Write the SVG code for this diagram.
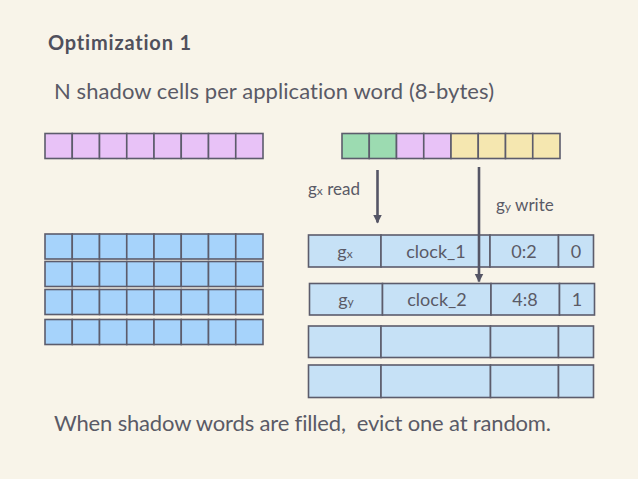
<svg xmlns="http://www.w3.org/2000/svg" width="638" height="479" viewBox="0 0 638 479">
<style>
.t{font-family:Lato,"Noto Sans","DejaVu Sans",sans-serif;fill:#5a5a66;font-weight:400;font-variant-ligatures:none}
.c{stroke:#5c5c6c;stroke-width:1.6}
.p{fill:#E8C2F7}.b{fill:#A6D3FB}.g{fill:#9CDBB1}.y{fill:#F5E7B0}.tb{fill:#C6E1F6}
.ar{stroke:#555565;stroke-width:2.6;fill:none}
</style>
<defs>
<marker id="ah" markerWidth="9" markerHeight="10" refX="8" refY="4.5" orient="auto" markerUnits="userSpaceOnUse">
<path d="M0,0 L9,4.5 L0,9 Z" fill="#555565"/>
</marker>
<g id="row8">
<rect x="0" y="0" width="27.25" height="25" class="c"/>
<rect x="27.25" y="0" width="27.25" height="25" class="c"/>
<rect x="54.5" y="0" width="27.25" height="25" class="c"/>
<rect x="81.75" y="0" width="27.25" height="25" class="c"/>
<rect x="109" y="0" width="27.25" height="25" class="c"/>
<rect x="136.25" y="0" width="27.25" height="25" class="c"/>
<rect x="163.5" y="0" width="27.25" height="25" class="c"/>
<rect x="190.75" y="0" width="27.25" height="25" class="c"/>
</g>
</defs>
<rect width="638" height="479" fill="#F8F4E9"/>
<text class="t" x="48" y="50" font-size="20" style="font-weight:bold;fill:#50505c" textLength="143">Optimization 1</text>
<text class="t" x="54" y="99" font-size="22" textLength="440">N shadow cells per application word (8-bytes)</text>

<g id="app-word">
<use href="#row8" x="45" y="133.5" class="p"/>
</g>
<g id="shadow-cells">
<use href="#row8" x="45" y="234" class="b"/>
<use href="#row8" x="45" y="261.5" class="b"/>
<use href="#row8" x="45" y="289.5" class="b"/>
<use href="#row8" x="45" y="319.5" class="b"/>
</g>
<g id="access-word">
<rect x="342" y="133.5" width="27.25" height="25" class="c g"/>
<rect x="369.25" y="133.5" width="27.25" height="25" class="c g"/>
<rect x="396.5" y="133.5" width="27.25" height="25" class="c p"/>
<rect x="423.75" y="133.5" width="27.25" height="25" class="c p"/>
<rect x="451" y="133.5" width="27.25" height="25" class="c y"/>
<rect x="478.25" y="133.5" width="27.25" height="25" class="c y"/>
<rect x="505.5" y="133.5" width="27.25" height="25" class="c y"/>
<rect x="532.75" y="133.5" width="27.25" height="25" class="c y"/>
</g>
<g id="table-row-1">
<rect x="308.5" y="235" width="72.5" height="32" class="c tb"/>
<rect x="381" y="235" width="109" height="32" class="c tb"/>
<rect x="490" y="235" width="68.5" height="32" class="c tb"/>
<rect x="558.5" y="235" width="35" height="32" class="c tb"/>
<text class="t" x="345" y="257.5" font-size="18" text-anchor="middle">g<tspan font-size="12">x</tspan></text>
<text class="t" x="436" y="257.5" font-size="18" text-anchor="middle">clock_1</text>
<text class="t" x="524" y="257.5" font-size="18" text-anchor="middle">0:2</text>
<text class="t" x="576" y="257.5" font-size="18" text-anchor="middle">0</text>
</g>
<g id="table-row-2">
<rect x="309.5" y="283.5" width="73" height="31.5" class="c tb"/>
<rect x="382.5" y="283.5" width="108.5" height="31.5" class="c tb"/>
<rect x="491" y="283.5" width="68.5" height="31.5" class="c tb"/>
<rect x="559.5" y="283.5" width="35" height="31.5" class="c tb"/>
<text class="t" x="346" y="305.5" font-size="18" text-anchor="middle">g<tspan font-size="12">y</tspan></text>
<text class="t" x="437" y="305.5" font-size="18" text-anchor="middle">clock_2</text>
<text class="t" x="525" y="305.5" font-size="18" text-anchor="middle">4:8</text>
<text class="t" x="577" y="305.5" font-size="18" text-anchor="middle">1</text>
</g>
<g id="table-row-3">
<rect x="308.5" y="326" width="72.5" height="31.5" class="c tb"/>
<rect x="381" y="326" width="109.5" height="31.5" class="c tb"/>
<rect x="490.5" y="326" width="68" height="31.5" class="c tb"/>
<rect x="558.5" y="326" width="35" height="31.5" class="c tb"/>
</g>
<g id="table-row-4">
<rect x="308.5" y="365" width="72.5" height="32.5" class="c tb"/>
<rect x="381" y="365" width="109.5" height="32.5" class="c tb"/>
<rect x="490.5" y="365" width="68" height="32.5" class="c tb"/>
<rect x="558.5" y="365" width="35" height="32.5" class="c tb"/>
</g>
<g id="connectors">
<line x1="377.5" y1="170" x2="377.5" y2="222.5" class="ar" marker-end="url(#ah)"/>
<line x1="479" y1="167" x2="479" y2="281.5" class="ar" marker-end="url(#ah)"/>
</g>
<text class="t" x="308" y="195" font-size="17">g<tspan font-size="12">x</tspan> read</text>
<text class="t" x="496" y="211" font-size="17">g<tspan font-size="12">y</tspan> write</text>
<text class="t" x="54" y="431" font-size="22" textLength="497">When shadow words are filled,&#160; evict one at random.</text>
</svg>
